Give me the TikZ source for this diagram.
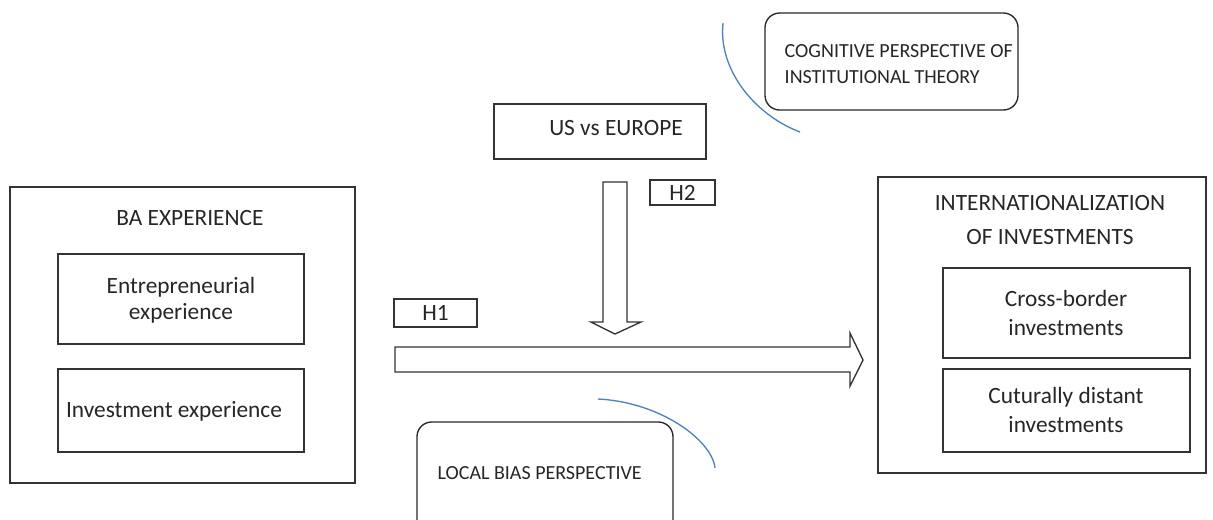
\documentclass[tikz,border=0pt]{standalone}
\usepackage{fontspec}
\setmainfont{Carlito}
\definecolor{arcblue}{RGB}{79,129,189}
\begin{document}
\begin{tikzpicture}[x=0.75pt,y=-0.75pt,
  box/.style={draw=black!80,line width=1pt},
  rbox/.style={draw=black!85,line width=1pt,rounded corners=11pt},
  lbl/.style={font=\fontsize{17.5}{19.5}\selectfont,text=black!85,align=center},
  small/.style={font=\fontsize{15}{19}\selectfont,text=black!85,align=left},
  arc/.style={draw=arcblue,line width=1pt}]
\useasboundingbox (0,0) rectangle (1213,519);
\clip (0,0) rectangle (1213,519);
% left group
\draw[box] (10,187) rectangle (355,483);
\node[lbl] (ba) at (190,218) {BA EXPERIENCE};
\draw[box] (58,254) rectangle (304,344);
\node[lbl] (ent) at (181,300) {Entrepreneurial\\experience};
\draw[box] (58,369) rectangle (304,452);
\node[lbl] (inv) at (174,411) {Investment experience};
% right group
\draw[box] (878,177) rectangle (1206,473);
\node[lbl,font=\fontsize{17.5}{26}\selectfont] (intl) at (1050,220) {INTERNATIONALIZATION\\OF INVESTMENTS};
\draw[box] (943,268) rectangle (1190,358);
\node[lbl,font=\fontsize{17.5}{22}\selectfont] (cb) at (1066,313) {Cross-border\\investments};
\draw[box] (943,369) rectangle (1190,452);
\node[lbl,font=\fontsize{17.5}{22}\selectfont] (cd) at (1066,410) {Cuturally distant\\investments};
% US vs Europe
\draw[box] (494,104) rectangle (706,159);
\node[lbl] (us) at (616,128) {US vs EUROPE};
% H labels
\draw[box] (650,180) rectangle (715,205);
\node[lbl] (h2) at (682.5,192.5) {H2};
\draw[box] (394,299) rectangle (477,327);
\node[lbl] (h1) at (435.5,313) {H1};
% down block arrow
\draw[box,line join=miter] (603,182) -- (627,182) -- (627,322) -- (641,322) -- (615,334) -- (591,322) -- (603,322) -- cycle;
% right block arrow
\draw[box,line join=miter] (395,347) -- (850,347) -- (850,333) -- (863,360) -- (850,386) -- (850,372) -- (395,372) -- cycle;
% cognitive perspective
\draw[rbox] (765,13) rectangle (1018,110);
\node[small,anchor=west] (cog) at (780,64) {COGNITIVE PERSPECTIVE OF\\INSTITUTIONAL THEORY};
\draw[arc] (723,23) .. controls (718,70) and (755,115) .. (800,132);
% local bias perspective
\draw[rbox] (417,422) rectangle (673,540);
\node[small,anchor=west] (loc) at (433,473) {LOCAL BIAS PERSPECTIVE};
\draw[arc] (598,399) .. controls (660,402) and (712,440) .. (715,468);
\end{tikzpicture}
\end{document}
